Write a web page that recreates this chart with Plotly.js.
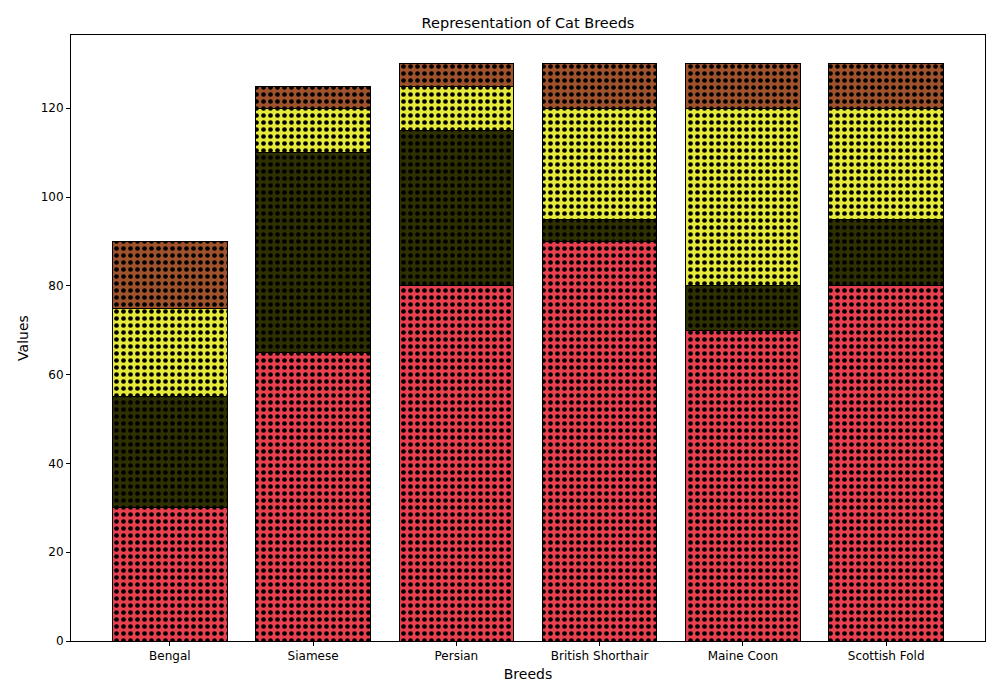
<!DOCTYPE html>
<html>
<head>
<script src="https://cdn.plot.ly/plotly-3.0.1.min.js"></script>
</head>
<body style="margin:0">
<div id="graph" style="width:1000px;height:700px"></div>
<script>
var breeds = ['Bengal', 'Siamese', 'Persian', 'British Shorthair', 'Maine Coon', 'Scottish Fold'];
var seg1 = [30, 65, 80, 90, 70, 80];
var seg2 = [25, 45, 35, 5, 10, 15];
var seg3 = [20, 10, 10, 25, 40, 25];
var seg4 = [15, 5, 5, 10, 10, 10];
var colors = ['#e8404f', '#2f3000', '#e6ea3a', '#a0522d'];

var data = [seg1, seg2, seg3, seg4].map(function (vals, i) {
  return {
    type: 'bar',
    x: breeds,
    y: vals,
    width: 0.8,
    marker: {
      color: colors[i],
      line: {color: 'black', width: 1},
      pattern: {shape: '.', fgcolor: 'black', bgcolor: colors[i], size: 7, solidity: 0.35}
    },
    hoverinfo: 'y',
    showlegend: false
  };
});

var layout = {
  barmode: 'stack',
  width: 1000,
  height: 700,
  margin: {l: 71, r: 15, t: 35, b: 59},
  paper_bgcolor: 'white',
  plot_bgcolor: 'white',
  font: {family: 'DejaVu Sans', size: 12, color: 'black'},
  title: {text: 'Representation of Cat Breeds', x: 0.528, y: 0.975, font: {size: 14.5}},
  xaxis: {
    title: {text: 'Breeds', standoff: 6},
    range: [-0.69, 5.69],
    showline: true, mirror: true, linecolor: 'black',
    ticks: 'outside', ticklen: 4, tickcolor: 'black', showgrid: false
  },
  yaxis: {
    title: {text: 'Values', standoff: 8},
    range: [0, 136.5],
    dtick: 20,
    showline: true, mirror: true, linecolor: 'black',
    ticks: 'outside', ticklen: 4, tickcolor: 'black', showgrid: false, zeroline: false
  }
};

Plotly.newPlot('graph', data, layout, {displayModeBar: false});
</script>
</body>
</html>
